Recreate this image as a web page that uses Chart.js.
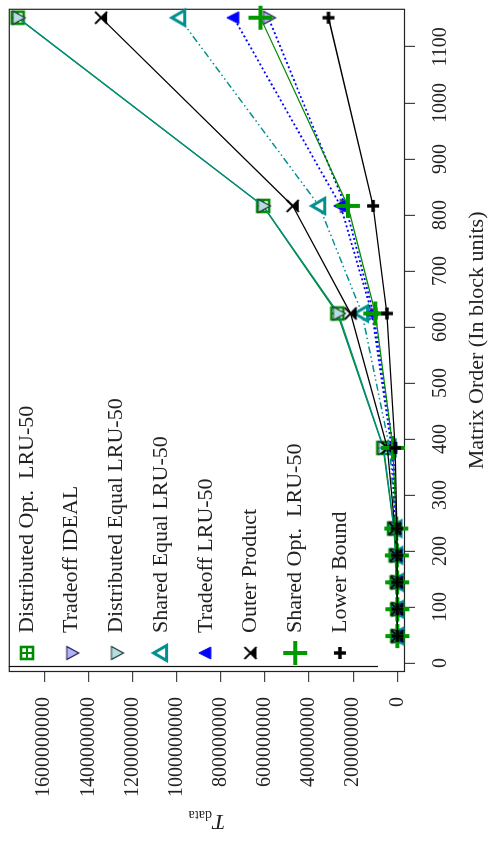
<!DOCTYPE html>
<html>
<head>
<meta charset="utf-8">
<script src="https://cdn.jsdelivr.net/npm/chart.js@4.4.1/dist/chart.umd.min.js"></script>
<style>
  html, body { margin: 0; padding: 0; background: #fff; overflow: hidden; }
  #page { position: relative; width: 489px; height: 842px; overflow: hidden; }
  /* the plot is laid out landscape and turned a quarter-turn counter-clockwise */
  #wrap {
    position: absolute; left: 0; top: 0; width: 842px; height: 489px;
    transform-origin: 0 0; transform: translate(0px, 842px) rotate(-90deg);
  }
  canvas { display: block; }
</style>
</head>
<body>
<div id="page"><div id="wrap"><canvas id="c" width="842" height="489" style="width:842px;height:489px"></canvas></div></div>
<script>
// Matrix order (block units) for each measurement
const matrixOrder = [48, 96, 144, 192, 240, 384, 624, 816, 1152];

// T_data for each strategy
const distOptLRU     = [0.13e6, 1.0e6, 3.4e6, 8.0e6, 15.6e6, 64e6, 272e6, 608e6, 1720e6];
const tradeoffIdeal  = [0.04e6, 0.3e6, 1.0e6, 2.4e6, 4.6e6, 19e6, 108e6, 235e6, 584e6];
const distEqualLRU   = [0.12e6, 1.0e6, 3.3e6, 7.8e6, 15e6, 62e6, 267e6, 607e6, 1718e6];
const sharedEqualLRU = [0.07e6, 0.55e6, 1.8e6, 4.4e6, 8.5e6, 35e6, 160e6, 354e6, 988e6];
const tradeoffLRU    = [0.05e6, 0.4e6, 1.4e6, 3.3e6, 6.3e6, 26e6, 115e6, 257e6, 741e6];
const outerProduct   = [0.09e6, 0.7e6, 2.4e6, 5.6e6, 11e6, 45e6, 212e6, 474e6, 1342e6];
const sharedOptLRU   = [0.04e6, 0.31e6, 1.05e6, 2.5e6, 4.9e6, 20e6, 100e6, 224e6, 620e6];
const lowerBound     = [0.02e6, 0.16e6, 0.53e6, 1.25e6, 2.4e6, 10e6, 47.5e6, 110e6, 312e6];

// Axis ticks
const xTicks = [0, 100, 200, 300, 400, 500, 600, 700, 800, 900, 1000, 1100];
const yTicks = [0, 200000000, 400000000, 600000000, 800000000, 1000000000, 1200000000, 1400000000, 1600000000];

const xTitle = 'Matrix Order (In block units)';
const serif = '"Liberation Serif", "DejaVu Serif", serif';

// ---- marker glyphs ----
function glyph(size, draw) {
  const c = document.createElement('canvas');
  c.width = size; c.height = size;
  const g = c.getContext('2d');
  draw(g, size / 2, size / 2);
  return c;
}
const GREEN = '#008B00', GREEN2 = '#009A00', TEAL = '#009090', BLUE = '#0000FF';

const mkSquare = glyph(18, (g, x, y) => {
  g.strokeStyle = GREEN; g.lineWidth = 2.6;
  g.strokeRect(x - 6, y - 6, 12, 12);
  g.lineWidth = 2;
  g.beginPath(); g.moveTo(x - 6, y); g.lineTo(x + 6, y); g.moveTo(x, y - 6); g.lineTo(x, y + 6); g.stroke();
});
function downTri(fill, stroke) {
  return glyph(18, (g, x, y) => {
    g.beginPath(); g.moveTo(x - 6.5, y - 5); g.lineTo(x + 6.5, y - 5); g.lineTo(x, y + 7); g.closePath();
    g.fillStyle = fill; g.fill(); g.strokeStyle = stroke; g.lineWidth = 1.2; g.stroke();
  });
}
const mkIdeal = downTri('#B2B2F4', '#1E1E50');
const mkDistEq = downTri('#B6DEDE', '#1C3A3A');
const mkShEq = glyph(22, (g, x, y) => {
  g.beginPath(); g.moveTo(x - 7.5, y + 5.5); g.lineTo(x + 7.5, y + 5.5); g.lineTo(x, y - 7.5); g.closePath();
  g.fillStyle = '#fff'; g.fill(); g.strokeStyle = TEAL; g.lineWidth = 3; g.lineJoin = 'miter'; g.stroke();
});
const mkTrLRU = glyph(18, (g, x, y) => {
  g.beginPath(); g.moveTo(x - 6, y + 5); g.lineTo(x + 6, y + 5); g.lineTo(x, y - 7); g.closePath();
  g.fillStyle = BLUE; g.fill(); g.strokeStyle = BLUE; g.lineWidth = 1; g.stroke();
});
const mkOuter = glyph(18, (g, x, y) => {
  g.strokeStyle = '#000'; g.lineWidth = 1.8;
  g.beginPath(); g.moveTo(x - 6, y - 6); g.lineTo(x + 6, y + 6); g.moveTo(x + 6, y - 6); g.lineTo(x - 6, y + 6); g.stroke();
  g.beginPath(); g.moveTo(x, y); g.lineTo(x - 6, y + 6); g.lineTo(x + 6, y + 6); g.closePath();
  g.fillStyle = '#000'; g.fill();
});
const mkShOpt = glyph(30, (g, x, y) => {
  g.strokeStyle = GREEN2; g.lineWidth = 4;
  g.beginPath(); g.moveTo(x - 12, y); g.lineTo(x + 12, y); g.moveTo(x, y - 12); g.lineTo(x, y + 12); g.stroke();
});
const mkLower = glyph(16, (g, x, y) => {
  g.strokeStyle = '#000'; g.lineWidth = 3.4;
  g.beginPath(); g.moveTo(x - 6, y); g.lineTo(x + 6, y); g.moveTo(x, y - 6); g.lineTo(x, y + 6); g.stroke();
});

function pts(vals) { return matrixOrder.map((m, i) => ({ x: m, y: vals[i] })); }

function series(label, vals, color, marker, dash, width, order) {
  return {
    label, data: pts(vals), borderColor: color, backgroundColor: color,
    borderWidth: width, borderDash: dash, pointStyle: marker,
    pointRadius: 7, pointHoverRadius: 7, tension: 0, fill: false, order, clip: false
  };
}

const datasets = [
  series('Distributed Opt.  LRU-50', distOptLRU, GREEN, mkSquare, [], 1.3, 8),
  series('Tradeoff IDEAL', tradeoffIdeal, BLUE, mkIdeal, [2, 2.6], 1.8, 7),
  series('Distributed Equal LRU-50', distEqualLRU, '#008B8B', mkDistEq, [], 1.3, 6),
  series('Shared Equal LRU-50', sharedEqualLRU, TEAL, mkShEq, [7, 3, 1.5, 3, 1.5, 3], 1.5, 5),
  series('Tradeoff LRU-50', tradeoffLRU, BLUE, mkTrLRU, [2, 2.6], 1.8, 4),
  series('Outer Product', outerProduct, '#000', mkOuter, [], 1.3, 3),
  series('Shared Opt.  LRU-50', sharedOptLRU, GREEN, mkShOpt, [], 1.3, 2),
  series('Lower Bound', lowerBound, '#000', mkLower, [], 1.3, 1)
];

// frame, inset legend and axis titles
const decorations = {
  id: 'decorations',
  beforeDatasetsDraw(chart) {
    const { ctx, chartArea: a } = chart;
    ctx.save();
    ctx.strokeStyle = '#222'; ctx.lineWidth = 1.2;
    ctx.strokeRect(a.left + 0.5, a.top + 0.5, a.right - a.left - 1, a.bottom - a.top - 1);
    ctx.restore();
  },
  afterDraw(chart) {
    const { ctx, chartArea: a } = chart;
    ctx.save();
    // legend
    ctx.strokeStyle = '#111'; ctx.lineWidth = 1.2;
    ctx.beginPath(); ctx.moveTo(a.left + 5.5, a.top); ctx.lineTo(a.left + 5.5, 378); ctx.stroke();
    ctx.font = '22px ' + serif; ctx.fillStyle = '#222';
    ctx.textAlign = 'left'; ctx.textBaseline = 'middle';
    datasets.forEach((ds, i) => {
      const y = 27 + i * 44.7;
      const m = ds.pointStyle;
      ctx.drawImage(m, 189 - m.width / 2, y - m.height / 2);
      ctx.fillText(ds.label, 209, y);
    });
    // x axis title
    ctx.textAlign = 'center';
    ctx.fillText(xTitle, (a.left + a.right) / 2, 477);
    // y axis title: italic T with subscript
    ctx.translate(21, (a.top + a.bottom) / 2);
    ctx.rotate(-Math.PI / 2);
    ctx.font = 'italic 22px ' + serif;
    const wT = ctx.measureText('T').width;
    ctx.font = '14px ' + serif;
    const wS = ctx.measureText('data').width;
    const x0 = -(wT + wS + 1) / 2;
    ctx.textAlign = 'left';
    ctx.font = 'italic 22px ' + serif;
    ctx.fillText('T', x0, 0);
    ctx.font = '14px ' + serif;
    ctx.fillText('data', x0 + wT + 1, 6);
    ctx.restore();
  }
};

function noEdgePad(s) { s.paddingTop = 0; s.paddingBottom = 0; s.paddingLeft = 0; s.paddingRight = 0; }

new Chart(document.getElementById('c'), {
  type: 'line',
  data: { datasets },
  options: {
    responsive: false, animation: false, devicePixelRatio: 1,
    layout: { padding: { top: 5, right: 5, left: 0, bottom: 0 } },
    plugins: { legend: { display: false }, tooltip: { enabled: false } },
    scales: {
      x: {
        type: 'linear', min: -16, max: 1168,
        afterFit(s) { s.height = 84; noEdgePad(s); },
        afterBuildTicks(s) { s.ticks = xTicks.map(v => ({ value: v })); },
        grid: { drawOnChartArea: false, drawTicks: true, tickLength: 10, color: '#444', lineWidth: 1.2 },
        border: { display: false },
        ticks: { font: { family: serif, size: 20 }, color: '#222', padding: 14, maxRotation: 0, autoSkip: false,
                 callback: v => String(v) }
      },
      y: {
        type: 'linear', min: -34.5e6, max: 1760e6,
        afterFit(s) { s.width = 170; noEdgePad(s); },
        afterBuildTicks(s) { s.ticks = yTicks.map(v => ({ value: v })); },
        grid: { drawOnChartArea: false, drawTicks: true, tickLength: 10, color: '#444', lineWidth: 1.2 },
        border: { display: false },
        ticks: { font: { family: serif, size: 20 }, color: '#222', padding: 15, autoSkip: false,
                 callback: v => String(v) }
      }
    }
  },
  plugins: [decorations]
});
</script>
</body>
</html>
